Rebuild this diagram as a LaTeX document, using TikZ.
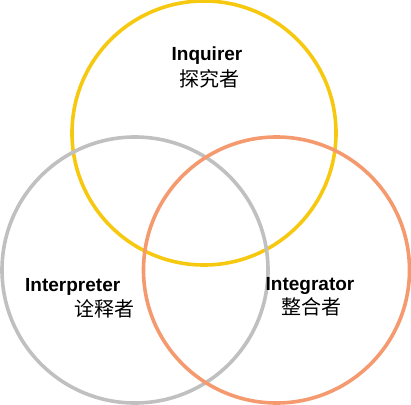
\documentclass[tikz,border=0pt]{standalone}
\usepackage{fontspec}
\setmainfont{Liberation Sans}
\newfontfamily\cjk{Noto Sans CJK SC}
\definecolor{ringyellow}{RGB}{247,200,16}
\definecolor{ringgray}{RGB}{192,192,192}
\definecolor{ringorange}{RGB}{244,154,110}
\begin{document}
\begin{tikzpicture}[x=1pt,y=1pt,
  ring/.style={line width=3.6pt},
  en/.style={font=\fontsize{19}{20}\selectfont\bfseries,inner sep=0pt},
  zh/.style={font=\fontsize{20}{21}\selectfont\cjk,inner sep=0pt}]
\useasboundingbox (0,0) rectangle (411,404);
\draw[ring,ringyellow] (204,271) circle (132);
\draw[ring,ringgray] (135,134) circle (133);
\draw[ring,ringorange] (276.5,134) circle (133);
\node[en] (inq) at (207,348) {Inquirer};
\node[zh] (inqzh) at (209,325) {探究者};
\node[en,anchor=west] (intp) at (25,117) {Interpreter};
\node[zh] (intpzh) at (104,95) {诠释者};
\node[en] (intg) at (310,118) {Integrator};
\node[zh] (intgzh) at (311.5,97) {整合者};
\end{tikzpicture}
\end{document}
